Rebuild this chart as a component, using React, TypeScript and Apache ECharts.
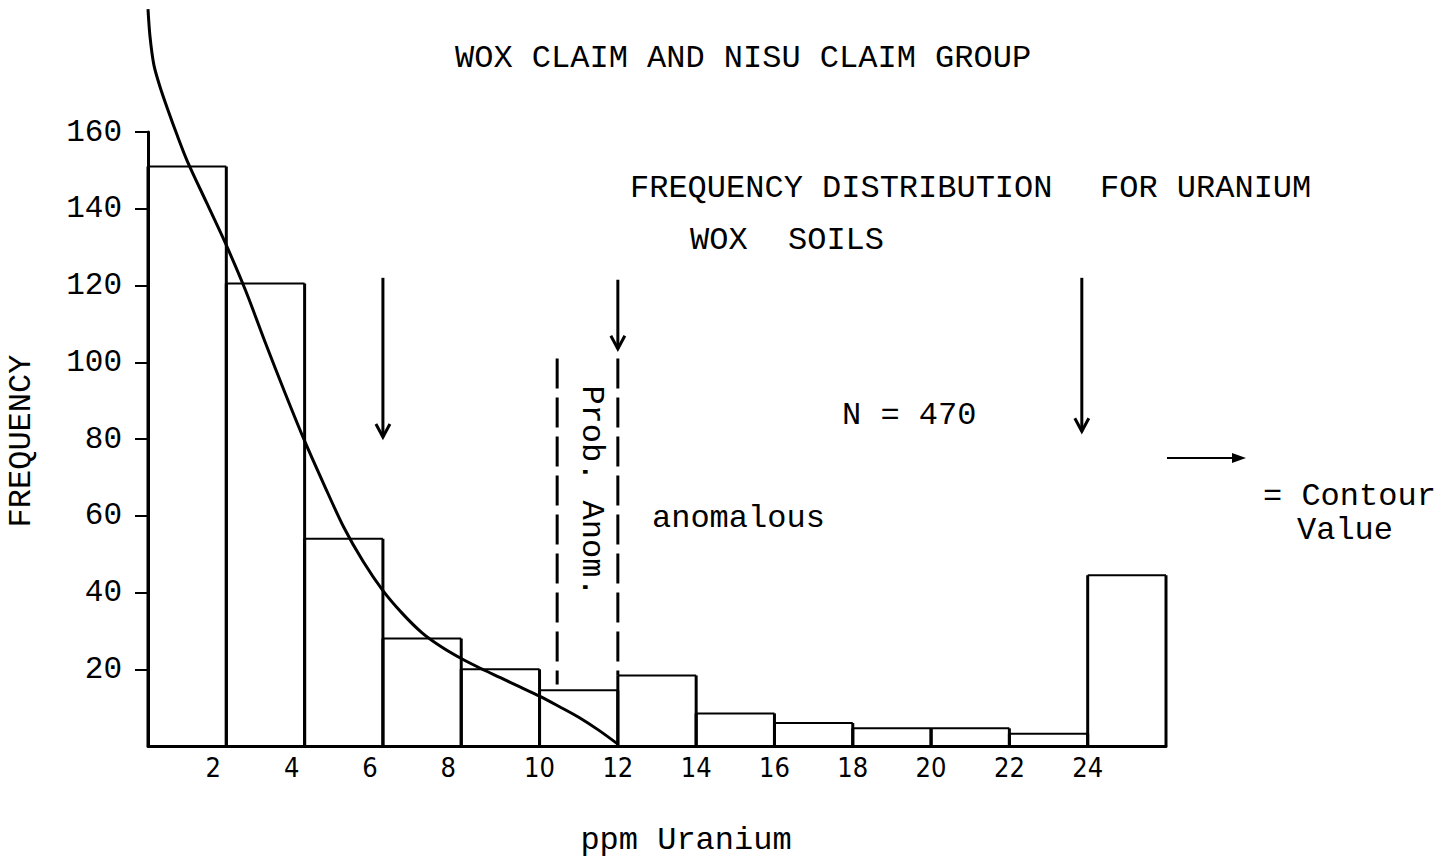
import React, { useEffect, useRef } from "react";
import * as echarts from "echarts";

// ---- data ----
const binStart = [0, 2, 4, 6, 8, 10, 12, 14, 16, 18, 20, 22, 24];
const binEnd = [2, 4, 6, 8, 10, 12, 14, 16, 18, 20, 22, 24, 26];
const frequency = [151, 120.5, 54, 28, 20, 14.5, 18.4, 8.5, 6, 4.6, 4.6, 3.2, 44.5];

const curveX = [0, 0.05, 0.15, 0.3, 0.5, 0.75, 1.0, 1.5, 2.0, 2.5, 3.0, 3.5, 4.0, 4.5, 5.0, 5.5, 6.0, 6.5, 7.0, 7.5, 8.0, 8.5, 9.0, 9.5, 10.0, 10.5, 11.0, 11.5, 12.0];
const curveY = [192, 185, 177.5, 172, 166, 159, 152.5, 141.5, 130.5, 118.5, 105, 92, 79.5, 68, 57, 48, 40.5, 34.5, 29.5, 25.8, 22.8, 20.2, 17.8, 15.4, 13, 10.3, 7.5, 4.2, 0.5];

const arrowX = [6, 12, 23.85];
const arrowTop = [122, 121.5, 122];
const arrowBottom = [80.5, 103.5, 82];

const dashX = [10.45, 12];
const dashTop = [101, 101];
const dashBottom = [16, 18.4];

const yTickValues = [20, 40, 60, 80, 100, 120, 140, 160];
const xTickValues = [2, 4, 6, 8, 10, 12, 14, 16, 18, 20, 22, 24];

const MONO = '"Liberation Mono", "DejaVu Sans Mono", monospace';
const NARROW = '"Liberation Sans Narrow", "DejaVu Sans Condensed", "Liberation Sans", sans-serif';
const INK = "#000";

function txt(text: string, x: number, y: number, extra: any = {}) {
  return {
    type: "text",
    x,
    y,
    rotation: extra.rotation || 0,
    style: {
      text,
      font: `${extra.size || 32}px ${MONO}`,
      fill: INK,
      align: extra.align || "left",
      verticalAlign: "middle",
    },
  };
}

export default function App() {
  const ref = useRef<HTMLDivElement>(null);
  useEffect(() => {
    if (!ref.current) return;
    const chart = echarts.init(ref.current, null, { renderer: "svg" });
    const barData = binStart.map((s, i) => [s, binEnd[i], frequency[i]]);
    const curveData = curveX.map((x, i) => [x, curveY[i]]);
    const arrowData = arrowX.map((x, i) => [x, arrowTop[i], arrowBottom[i]]);
    const dashData = dashX.map((x, i) => [x, dashTop[i], dashBottom[i]]);

    chart.setOption({
      animation: false,
      backgroundColor: "#fff",
      grid: { left: 148, right: 287, top: 132, bottom: 117, containLabel: false },
      xAxis: {
        type: "value",
        min: 0,
        max: 26,
        interval: 2,
        splitLine: { show: false },
        axisTick: { show: false },
        axisLine: { lineStyle: { color: INK, width: 3 } },
        axisLabel: {
          customValues: xTickValues,
          margin: 8,
          formatter: (v: number) => (v < 10 ? `{a|${v}}` : `{b|${v}}`),
          rich: {
            a: { fontFamily: NARROW, fontSize: 27, color: INK, padding: [0, 26, 0, 0] },
            b: { fontFamily: NARROW, fontSize: 27, color: INK },
          },
        },
      },
      yAxis: {
        type: "value",
        min: 0,
        max: 160,
        interval: 20,
        splitLine: { show: false },
        axisLine: { lineStyle: { color: INK, width: 3 } },
        axisTick: { customValues: yTickValues, length: 13, lineStyle: { color: INK, width: 2 } },
        axisLabel: {
          customValues: yTickValues,
          margin: 26,
          fontFamily: MONO,
          fontSize: 31,
          color: INK,
        },
      },
      series: [
        {
          type: "custom",
          name: "histogram",
          data: barData,
          encode: { x: [0, 1], y: 2 },
          renderItem: (params: any, api: any) => {
            const tl = api.coord([api.value(0), api.value(2)]);
            const br = api.coord([api.value(1), 0]);
            return {
              type: "group",
              children: [
                { type: "line", shape: { x1: tl[0], y1: br[1], x2: tl[0], y2: tl[1] }, style: { stroke: INK, lineWidth: 3 } },
                { type: "line", shape: { x1: tl[0], y1: tl[1], x2: br[0], y2: tl[1] }, style: { stroke: INK, lineWidth: 2 } },
                { type: "line", shape: { x1: br[0], y1: tl[1], x2: br[0], y2: br[1] }, style: { stroke: INK, lineWidth: 3 } },
              ],
            };
          },
        },
        {
          type: "line",
          name: "curve",
          data: curveData,
          smooth: 0.3,
          showSymbol: false,
          clip: false,
          lineStyle: { color: INK, width: 3 },
        },
        {
          type: "custom",
          name: "contour arrows",
          data: arrowData,
          encode: { x: 0, y: [1, 2] },
          renderItem: (params: any, api: any) => {
            const top = api.coord([api.value(0), api.value(1)]);
            const bot = api.coord([api.value(0), api.value(2)]);
            return {
              type: "group",
              children: [
                { type: "line", shape: { x1: top[0], y1: top[1], x2: bot[0], y2: bot[1] }, style: { stroke: INK, lineWidth: 3 } },
                {
                  type: "polyline",
                  shape: { points: [[bot[0] - 7, bot[1] - 13], [bot[0], bot[1]], [bot[0] + 7, bot[1] - 13]] },
                  style: { stroke: INK, lineWidth: 3, fill: null },
                },
              ],
            };
          },
        },
        {
          type: "custom",
          name: "prob anom bounds",
          data: dashData,
          encode: { x: 0, y: [1, 2] },
          renderItem: (params: any, api: any) => {
            const top = api.coord([api.value(0), api.value(1)]);
            const bot = api.coord([api.value(0), api.value(2)]);
            return {
              type: "line",
              shape: { x1: top[0], y1: top[1], x2: bot[0], y2: bot[1] },
              style: { stroke: INK, lineWidth: 3, lineDash: [30, 9] },
            };
          },
        },
      ],
      graphic: [
        txt("WOX CLAIM AND NISU CLAIM GROUP", 455, 58),
        txt("FREQUENCY DISTRIBUTION", 630, 188),
        txt("FOR URANIUM", 1100, 188),
        txt("WOX", 690, 240),
        txt("SOILS", 788, 240),
        txt("N = 470", 842, 415),
        txt("anomalous", 652, 518),
        txt("Prob. Anom.", 591, 491, { align: "center", rotation: -Math.PI / 2 }),
        txt("= Contour", 1263, 496),
        txt("Value", 1297, 530),
        txt("FREQUENCY", 21, 441, { align: "center", rotation: Math.PI / 2 }),
        txt("ppm Uranium", 686, 840, { align: "center" }),
        { type: "line", shape: { x1: 1167, y1: 458, x2: 1238, y2: 458 }, style: { stroke: INK, lineWidth: 2 } },
        { type: "polygon", shape: { points: [[1232, 453], [1246, 458], [1232, 463]] }, style: { fill: INK } },
      ],
    });
    return () => chart.dispose();
  }, []);
  return (
    <div
      ref={ref}
      style={{ position: "fixed", left: 0, top: 0, width: "1453px", height: "863px", background: "#fff" }}
    />
  );
}
